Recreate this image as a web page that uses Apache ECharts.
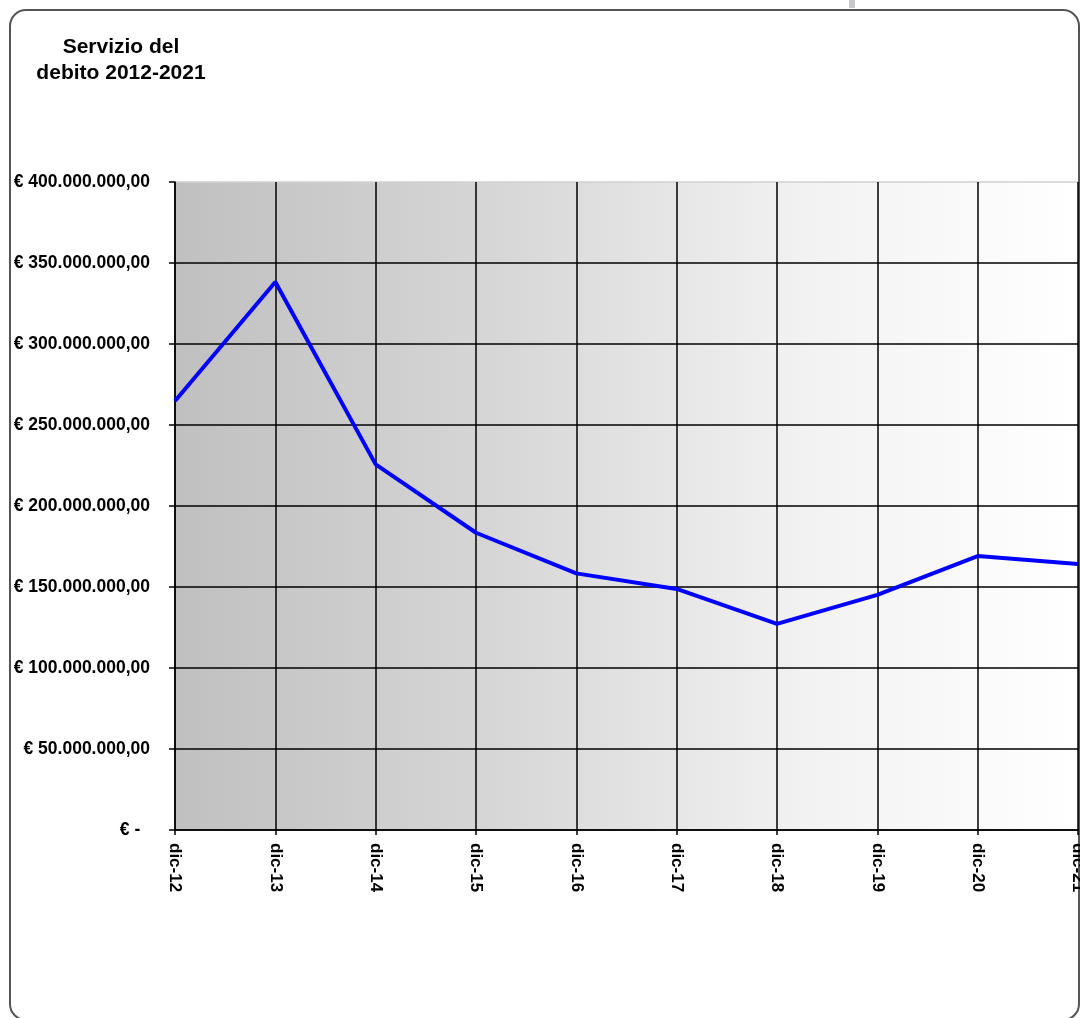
<!DOCTYPE html>
<html>
<head>
<meta charset="utf-8">
<script src="https://cdn.jsdelivr.net/npm/echarts@6/dist/echarts.min.js"></script>
<style>
  html, body { margin: 0; padding: 0; background: #fff; }
  #chart { width: 1080px; height: 1018px; }
</style>
</head>
<body>
<div id="chart"></div>
<script>
// categorie (dicembre di ogni anno)
var mesi = ['dic-12', 'dic-13', 'dic-14', 'dic-15', 'dic-16', 'dic-17', 'dic-18', 'dic-19', 'dic-20', 'dic-21'];
// servizio del debito, in euro
var servizioDebito = [264800000, 338300000, 225700000, 183500000, 158400000, 148800000, 127200000, 145100000, 169100000, 164200000];
// tacche asse y
var yMin = 0;
var yMax = 400000000;
var yPasso = 50000000;

function euro(v) {
  if (v === 0) return '€ -  ';
  var s = String(Math.round(v)).replace(/\B(?=(\d{3})+(?!\d))/g, '.');
  return '€ ' + s + ',00';
}

var grafico = echarts.init(document.getElementById('chart'));

var font = 'Liberation Sans, Arial, sans-serif';

var opzioni = {
  animation: false,
  backgroundColor: '#ffffff',
  graphic: [
    { // cornice arrotondata
      type: 'rect',
      shape: { x: 10, y: 10, width: 1069, height: 1010, r: 16 },
      style: { fill: 'none', stroke: '#555555', lineWidth: 2 },
      z: 0
    },
    {
      type: 'rect',
      shape: { x: 849, y: 0, width: 6, height: 8 },
      style: { fill: '#c8c8cc' }
    },
    { // titolo
      type: 'text',
      x: 121,
      y: 34,
      style: {
        text: 'Servizio del\ndebito 2012-2021',
        fill: '#000',
        font: 'bold 21px ' + font,
        align: 'center',
        lineHeight: 26
      }
    }
  ],
  grid: {
    left: 175,
    right: 2,
    top: 182,
    bottom: 188,
    outerBoundsMode: 'none',
    containLabel: false,
    show: true,
    borderWidth: 0,
    backgroundColor: new echarts.graphic.LinearGradient(0, 0, 1, 0, [
      { offset: 0, color: '#c0c0c0' },
      { offset: 0.35, color: '#d6d6d6' },
      { offset: 0.7, color: '#f2f2f2' },
      { offset: 1, color: '#ffffff' }
    ])
  },
  xAxis: {
    type: 'category',
    data: mesi,
    boundaryGap: false,
    axisLine: { lineStyle: { color: '#000', width: 1.5 } },
    axisTick: { show: true, length: 5, lineStyle: { color: '#000', width: 1.5 } },
    splitLine: { show: true, lineStyle: { color: '#000', width: 1.5 } },
    axisLabel: {
      rotate: -90,
      margin: 13,
      color: '#000',
      fontFamily: font,
      fontWeight: 'bold',
      fontSize: 17,
      interval: 0,
      hideOverlap: false
    }
  },
  yAxis: {
    type: 'value',
    min: yMin,
    max: yMax,
    interval: yPasso,
    axisLine: { show: true, lineStyle: { color: '#000', width: 1.5 } },
    axisTick: { show: true, length: 6, lineStyle: { color: '#000', width: 1.5 } },
    splitLine: {
      show: true,
      lineStyle: {
        color: ['#000', '#000', '#000', '#000', '#000', '#000', '#000', '#000', '#d0d0d0'],
        width: 1.5
      }
    },
    axisLabel: {
      margin: 25,
      color: '#000',
      fontFamily: font,
      fontWeight: 'bold',
      fontSize: 17.5,
      formatter: euro
    }
  },
  series: [{
    type: 'line',
    data: servizioDebito,
    showSymbol: false,
    symbol: 'none',
    lineStyle: { color: '#0000ff', width: 4 },
    z: 5
  }]
};

grafico.setOption(opzioni);
</script>
</body>
</html>
